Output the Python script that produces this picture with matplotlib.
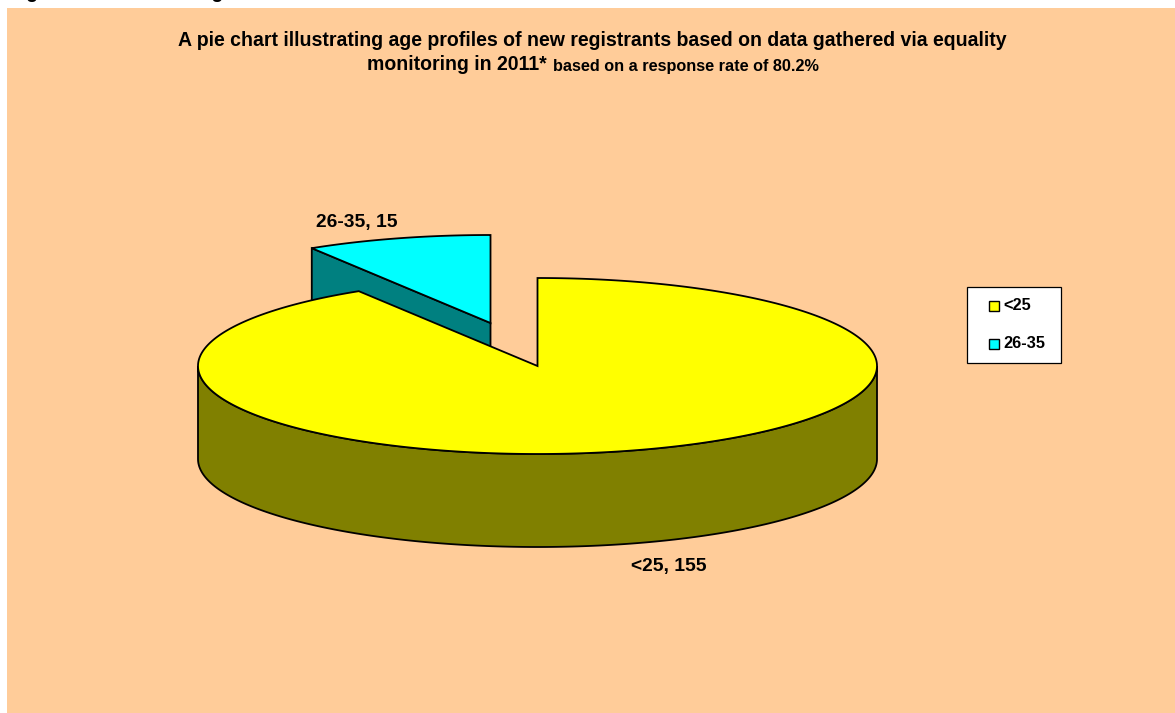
import numpy as np
import matplotlib
matplotlib.use("Agg")
import matplotlib.pyplot as plt
from matplotlib.patches import Polygon, Rectangle

labels = ["<25", "26-35"]
values = [155, 15]
face_cols = ["#ffff00", "#00ffff"]
side_cols = ["#808000", "#008080"]

heading = "Figure 1: Data showing"
title1 = "A pie chart illustrating age profiles of new registrants based on data gathered via equality"
title2a = "monitoring in 2011*"
title2b = "based on a response rate of 80.2%"

# pie geometry, in image pixels
CX, CY, RX, RY, DEPTH = 537.5, 366, 339.5, 88, 93
EXPLODE = (-47, -43)
BG = "#ffcc99"

plt.rcParams["font.family"] = ["Liberation Sans", "DejaVu Sans"]
plt.rcParams["font.weight"] = "bold"

fig = plt.figure(figsize=(11.75, 7.13), dpi=100, facecolor="white")
ax = fig.add_axes([0, 0, 1, 1])
ax.set_xlim(0, 1175)
ax.set_ylim(713, 0)
ax.axis("off")
ax.add_patch(Rectangle((7, 8), 1168, 705, fc=BG, ec="none", zorder=0))


def rim(a0, a1, cx, cy, n=200):
    # angles are clockwise from 12 o'clock, like the original chart
    t = np.radians(np.linspace(a0, a1, n))
    return np.c_[cx + RX * np.sin(t), cy - RY * np.cos(t)]


split = 360 * values[0] / sum(values)
lw = 1.3

# exploded small slice first, the big one sits on top of it
cx2, cy2 = CX + EXPLODE[0], CY + EXPLODE[1]
arc2 = rim(split, 360, cx2, cy2)
cut = np.array([arc2[0], [cx2, cy2], [cx2, cy2 + DEPTH], [arc2[0][0], arc2[0][1] + DEPTH]])
ax.add_patch(Polygon(cut, fc=side_cols[1], ec="black", lw=lw, zorder=2))
ax.add_patch(Polygon(np.vstack([arc2, [cx2, cy2]]), fc=face_cols[1], ec="black", lw=lw, zorder=3))

# big slice
front = rim(90, 270, CX, CY)
wall = np.vstack([front, front[::-1] + [0, DEPTH]])
ax.add_patch(Polygon(wall, fc=side_cols[0], ec="black", lw=lw, zorder=4))
arc1 = rim(0, split, CX, CY, 500)
ax.add_patch(Polygon(np.vstack([arc1, [CX, CY]]), fc=face_cols[0], ec="black", lw=lw, zorder=5))

# data labels
ax.text(357, 226.5, f"{labels[1]}, {values[1]}", fontsize=13.9, ha="center", va="baseline", color="black")
ax.text(669, 570.5, f"{labels[0]}, {values[0]}", fontsize=13.9, ha="center", va="baseline", color="black")

# title
ax.text(592.5, 46, title1, fontsize=14.07, ha="center", va="baseline", color="black")
ax.text(367, 70.5, title2a, fontsize=14.07, ha="left", va="baseline", color="black")
ax.text(553, 70.5, title2b, fontsize=11.67, ha="left", va="baseline", color="black")

# cut off heading at the very top of the scan, only descenders are left
ax.text(9, -2, heading, fontsize=14.07, ha="left", va="baseline", color="black", clip_on=True)

# legend
ax.add_patch(Rectangle((968, 288), 94, 76, fc="#7f7060", ec="none", zorder=1))
ax.add_patch(Rectangle((967, 287), 94, 76, fc="white", ec="black", lw=0.9, zorder=2))
for i, (lab, col) in enumerate(zip(labels, face_cols)):
    y = 306 + i * 38
    ax.add_patch(Rectangle((988.5, y - 5), 10, 10, fc=col, ec="black", lw=1.0, zorder=3))
    ax.text(1003, y + 4.5, lab, fontsize=11.8, ha="left", va="baseline", color="black", zorder=3)

fig.savefig("out.png", dpi=100, facecolor="white")
